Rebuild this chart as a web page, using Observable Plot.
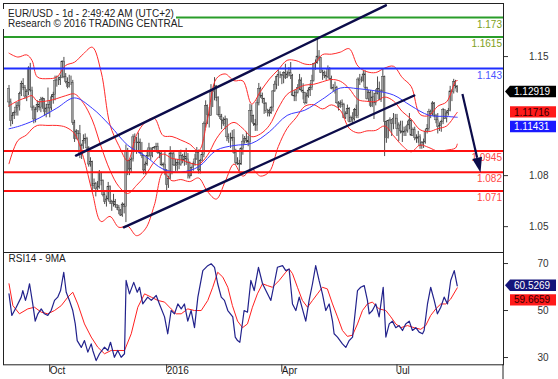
<!DOCTYPE html>
<html>
<head>
<meta charset="utf-8">
<script src="https://cdn.jsdelivr.net/npm/d3@7"></script>
<script src="https://cdn.jsdelivr.net/npm/@observablehq/plot@0.6"></script>
<style>
  html,body{margin:0;padding:0;background:#fff;}
  #wrap{position:relative;width:558px;height:379px;overflow:hidden;background:#fff;font-family:Arial,"Liberation Sans",sans-serif;}
  #wrap svg{position:absolute;left:0;display:block;overflow:visible;background:transparent;}
  #hdr{position:absolute;left:3px;top:8.7px;font-size:10px;line-height:10px;color:#222;}
  #hdr span{display:inline-block;background:#fff;padding:0 2px 0 5px;white-space:nowrap;}
</style>
</head>
<body>
<div id="wrap"><div id="hdr"></div></div>
<script>
// ---------------- DATA ----------------
const titleLines = ["EUR/USD - 1d - 2:49:42 AM (UTC+2)", "Research \u00A9 2016 TRADING CENTRAL"];
const rsiTitle = "RSI14 - 9MA";
const firstBarDate = "2015-09-02", lastBarDate = "2016-08-22";
// daily prices, in 1/10000 above 1.0000 (e.g. 1230 = 1.1230)
const firstOpen = 1310;
const closeP = [
1230,1120,1150,1170,1200,1210,1280,1340,1315,1265,1290,1430,1300,1200,1130,1185,1215,1200,1245,1250,1175,
1195,1215,1195,1260,1275,1355,1360,1360,1375,1470,1380,1350,1320,1345,1345,1110,1015,1060,1045,925,975,1005,
1015,960,865,880,740,750,720,730,815,770,685,645,660,735,645,635,645,625,610,595,565,
630,615,940,885,835,895,1025,990,990,995,930,915,830,865,915,960,915,960,965,970,935,930,860,
865,830,745,780,930,925,860,855,875,865,915,890,910,895,875,795,845,870,895,935,830,
885,920,1105,1210,1155,1150,1290,1290,1325,1255,1155,1145,1125,1105,1130,1025,1015,1015,1020,935,875,
870,865,955,1000,1015,1005,995,1180,1150,1105,1095,1225,1310,1270,1250,1220,1180,1180,1165,1200,1295,1335,1380,
1390,1390,1385,1405,1375,1395,1405,1385,1270,1265,1285,1315,1360,1300,1285,1225,1265,1300,1315,1355,1455,
1460,1500,1490,1405,1405,1385,1380,1425,1370,1310,1315,1315,1225,1205,1225,1215,1140,1160,1190,1115,1140,1130,
1185,1150,1365,1355,1355,1395,1315,1250,1285,1210,1260,1225,1280,1310,1245,1295,1380,1115,1020,1120,1125,1105,
1135,1135,1075,1095,1060,1050,1055,1065,1095,1125,1035,1070,1020,1015,1025,975,990,995,1055,1075,1175,
1160,1225,1150,1125,1085,1090,1115,1185,1135,1165,1180,1295,1290,1350,1325,1292];
const highP = [
1330,1250,1170,1180,1230,1230,1290,1355,1370,1330,1305,1440,1460,1320,1210,1200,1240,1230,1260,1260,1250,
1220,1315,1240,1275,1290,1385,1385,1380,1390,1475,1495,1400,1375,1390,1385,1360,1125,1070,1065,1095,985,1040,
1045,1025,970,905,885,780,760,765,830,820,775,700,680,760,740,655,690,660,630,625,600,
640,635,980,960,890,905,1040,1045,1025,1050,1015,995,920,880,950,990,960,965,970,990,990,945,935,
875,945,835,795,970,935,945,895,895,945,950,925,935,960,930,880,850,880,925,965,950,
895,940,1115,1240,1215,1200,1335,1300,1376,1330,1265,1205,1160,1140,1150,1135,1045,1050,1065,1070,955,
905,890,965,1040,1030,1055,1030,1220,1215,1155,1130,1245,1342,1320,1285,1255,1230,1190,1190,1205,1300,1355,1385,
1420,1410,1395,1410,1455,1415,1435,1465,1395,1300,1300,1335,1395,1375,1340,1290,1285,1315,1340,1390,1460,
1480,1616,1535,1495,1420,1415,1410,1445,1435,1385,1335,1350,1325,1235,1240,1245,1225,1175,1215,1200,1150,1170,
1195,1215,1375,1395,1380,1415,1416,1320,1300,1300,1295,1285,1305,1380,1350,1305,1428,1385,1120,1125,1140,1130,
1165,1160,1160,1110,1120,1120,1085,1090,1120,1165,1125,1080,1085,1040,1060,1040,1000,1015,1070,1100,1190,
1185,1235,1230,1160,1165,1110,1125,1195,1185,1180,1195,1325,1305,1366,1360,1328];
const lowP = [
1200,1087,1100,1130,1150,1150,1180,1265,1300,1250,1235,1270,1290,1180,1105,1110,1170,1180,1170,1190,1150,
1140,1160,1140,1180,1220,1240,1320,1330,1330,1370,1370,1340,1310,1315,1330,1095,995,1010,1010,900,895,955,
985,945,850,850,705,720,675,710,720,740,675,630,615,650,630,590,615,610,595,570,560,
555,575,524,800,800,815,880,935,925,935,925,900,805,805,855,905,890,905,950,935,925,900,855,
850,800,710,725,775,805,855,825,825,835,855,870,855,860,780,780,795,825,855,890,810,
810,880,905,1080,1100,1080,1150,1200,1240,1235,1150,1130,1070,1090,1070,1000,990,960,1000,925,860,
860,825,860,920,985,990,970,822,1110,1090,1060,1060,1210,1255,1225,1160,1165,1145,1145,1160,1175,1290,1305,
1325,1370,1335,1340,1365,1370,1380,1365,1265,1235,1235,1280,1300,1290,1245,1215,1220,1255,1265,1300,1350,
1420,1455,1470,1400,1360,1370,1360,1370,1360,1305,1290,1280,1220,1180,1195,1200,1135,1130,1160,1110,1110,1100,
1120,1135,1135,1330,1345,1350,1305,1245,1235,1200,1200,1130,1210,1275,1240,1230,1290,912,990,1015,1060,1030,
1070,1100,1030,1000,1045,995,1030,1030,1050,1070,1030,1030,1005,990,990,955,955,960,985,1045,1060,
1135,1150,1140,1105,1045,1060,1055,1100,1130,1110,1150,1175,1235,1280,1310,1285];

// Bollinger(20,2): bar index, upper, middle, lower
const bandBar =   [0,5,10,13,16,22,27,32,37,42,47,52,57,62,67,72,77,82,87,92,97,102,107,112,117,122,127,132,137,142,147,152,157,162,167,172,177,182,187,192,197,202,207,212,217,222,227,232,237,242,247,252,253];
const bandUpper = [1.152,1.1497,1.151,1.1477,1.138,1.137,1.138,1.1448,1.1467,1.1516,1.1555,1.141,1.110,1.0976,1.0887,1.104,1.1115,1.1137,1.1035,1.103,1.1009,1.0985,1.0946,1.1131,1.137,1.1398,1.1358,1.1357,1.1221,1.1296,1.1368,1.1423,1.1478,1.1476,1.1456,1.1457,1.1512,1.1514,1.1526,1.1546,1.1443,1.1411,1.1406,1.1432,1.1443,1.1376,1.1324,1.116,1.1153,1.1208,1.1234,1.1354,1.1359];
const bandMid =   [1.121,1.124,1.126,1.127,1.1237,1.124,1.1253,1.127,1.128,1.1226,1.1127,1.097,1.0831,1.0736,1.0695,1.0743,1.0801,1.0881,1.0927,1.0901,1.0893,1.0875,1.0866,1.0919,1.1016,1.1081,1.1113,1.1077,1.1029,1.1046,1.1096,1.1197,1.1278,1.1308,1.1332,1.1337,1.1352,1.1365,1.1355,1.1312,1.1247,1.1237,1.1236,1.1262,1.1239,1.1176,1.1132,1.107,1.1059,1.1076,1.1092,1.1158,1.1172];
const bandLower = [1.087,1.1006,1.104,1.1075,1.1095,1.1095,1.1095,1.1085,1.1046,1.0908,1.0703,1.053,1.056,1.0496,1.0503,1.0447,1.0487,1.0625,1.0819,1.077,1.0777,1.0765,1.0786,1.0707,1.0662,1.0765,1.0868,1.0797,1.0837,1.0797,1.0824,1.0971,1.1078,1.114,1.1208,1.1217,1.1192,1.1216,1.1184,1.1078,1.1051,1.1063,1.1066,1.1092,1.1035,1.0976,1.094,1.098,1.0965,1.0944,1.095,1.0962,1.0985];
// 50-period moving average
const maBar = [0,7,17,27,37,47,57,67,77,87,97,107,117,127,137,147,157,167,177,187,197,207,217,227,237,247,253];
const maVal = [1.1075,1.1095,1.1138,1.1197,1.1257,1.1196,1.1095,1.0979,1.0914,1.0838,1.0821,1.0852,1.0949,1.0977,1.099,1.1058,1.1154,1.1185,1.125,1.1315,1.1311,1.1298,1.1274,1.121,1.1155,1.1148,1.1143];
// RSI(14)
const rsiBar = [0,1.6,4.1,6.9,7.8,9.3,10.6,11.6,13.4,14.8,16.3,18.2,20,21.9,23.8,25.7,27.5,29.1,30.9,32.3,34.1,36,37.4,38.5,40.8,42.6,44.5,46.4,47.3,49.2,51.1,53.9,55.8,57.3,59.5,61.4,63.3,65.2,66.1,68,70.4,72.4,73.7,75.5,78.3,80.3,83.1,84.9,87.8,89.6,91.5,93.4,95.3,97.2,99,100.9,102.8,104.7,106.6,109.4,112.2,114.1,116,117.8,119.8,121.6,123.5,126.3,127.7,129,130.3,132.7,134.6,136.5,138.4,140.8,143.1,145.9,147.8,149.7,151.5,154.4,156.2,158.1,160,161.9,163.8,165.6,167.5,169.4,171.3,173.1,175,176.9,178.8,180.7,182.6,183.5,185.4,188.2,190.1,192,193.9,196.7,198.5,200.5,202.3,203.3,205.1,207,208.9,211.2,212.7,214.6,216.4,218.3,220.2,222.1,223.9,225.9,227.7,229.6,231.5,233.4,234.3,236.2,238,240,241.8,243.7,245.6,247.5,249.3,251.3,253];
const rsiVal = [57.1,47.9,51.4,55.7,58.5,54.3,57.8,61.4,52.8,45.5,48.6,50.7,48.6,47.9,50,54.3,55.7,58.5,66.3,57.8,54.3,50,44.3,37.2,34.3,37.2,32.3,35.8,33,28.7,31.6,34.4,33,36.5,30.1,33,30.1,31.6,62.8,57.1,62,57.8,59.9,52.8,55.7,54.3,56.4,52.8,47.3,40.1,50,48.6,52.8,50.7,52.8,45.5,50,42.7,55.7,67,69.1,69.9,68.4,61.4,55.7,54.3,50,47.3,38.7,37.2,36.5,50,49.3,62.8,58.5,68.4,61.4,57.1,54.3,61.4,68.4,69.1,67,67.7,52.8,50,55.7,50.7,45.5,54.3,61.4,69.1,62.8,57.1,50,52.8,45.5,40.1,38.7,35.8,34.3,37.2,38.7,58.5,59.9,60.6,54.3,48.6,50,52.8,47.3,59.9,38.7,44.3,45.5,42.7,43.6,41.5,44.3,45.5,41.5,42.7,40.8,40.1,41.5,52.8,59.9,54.3,48.6,51.4,55.7,52.8,62.8,67,60.5269];
// 9-period MA of RSI
const rsiMaBar = [0,2.2,5.9,10.6,14.4,18.2,21.9,25.7,29.5,33.2,36,38.8,42.6,46.4,50.1,53.9,57.7,61.4,65.2,69,72.7,76.5,80.3,84,87.8,91.5,94.4,97.2,100.9,104.7,108.5,112.2,115,117.8,120.7,123.5,126.1,129,131.8,134.6,137.4,140.2,143.1,145.9,148.7,152.5,156.2,158.1,160,162.8,165.6,168.5,171.3,174.1,176.9,179.7,182.6,185.4,188.2,191,193.9,196.7,199.5,202.3,205.1,208.9,212.7,215.5,218.3,221.1,224.9,228.7,232.4,235.2,238,240.9,243.7,246.5,249.3,253];
const rsiMaVal = [61.4,52.1,48.6,50.7,51.4,49.3,48.6,50,52.1,55.7,57.8,52.8,44.3,38.7,34.4,31.6,33,33,33,40.1,51.4,57.1,55.7,54.3,53.6,50.7,48.6,48.6,50.7,50,50,54.3,59.9,66.3,64.2,59.9,52.1,45.5,42.7,44.3,51.4,57.1,61.4,60.6,59.9,62.8,66.3,67.7,65.7,59.9,54.3,51.4,54.3,57.1,59.9,59.2,52.8,47.3,41.5,39,39.5,44.3,50,52.8,53.6,50.7,50,47.3,44.3,42.7,43.6,42.7,42,43.6,47.9,50.7,52.8,52.8,54.9,59.6659];

// key levels
const levelValues = [1.173, 1.1615, 1.143, 1.0945, 1.082, 1.071];
const levelLabels = ["1.173", "1.1615", "1.143", "1.0945", "1.082", "1.071"];
const levelKinds  = ["target", "target", "pivot", "support", "support", "support"];
// trend channel & projection arrow (bar index, price)
const channelUpperBar = [37.8, 212.7], channelUpperPrice = [1.0918, 1.1801];
const channelLowerBar = [64.8, 228.7], channelLowerPrice = [1.0496, 1.1271];
const arrowBar = [256.2, 266.4], arrowPrice = [1.1277, 1.0816];
// last values
const lastPrice = 1.12919, lastBandMid = 1.11716, lastMa = 1.11431;
const lastRsi = 60.5269, lastRsiMa = 59.6659;
// axis ticks
const priceTicks = [1.05, 1.08, 1.15];
const rsiTicks = [30, 50, 70];
const monthTicks = ["2015-10", "2016-01", "2016-04", "2016-07"];
const monthLabels = ["Oct", "2016", "Apr", "Jul"];

// ---------------- STYLE ----------------
const levelStyle = {
  target:  {line: "#2a9d2a", text: "#80a020"},
  pivot:   {line: "#1f2fff", text: "#4a55ff"},
  support: {line: "#ff1010", text: "#ff4848"}
};
const FONT = "Arial, 'Liberation Sans', sans-serif";

// ---------------- BUILD ----------------
function weekdays(a, b) {
  const out = [];
  const end = new Date(b + "T00:00:00Z");
  for (let d = new Date(a + "T00:00:00Z"); d <= end; d = new Date(d.getTime() + 864e5)) {
    const w = d.getUTCDay();
    if (w > 0 && w < 6) out.push(d.toISOString().slice(0, 10));
  }
  return out;
}
const dates = weekdays(firstBarDate, lastBarDate);
if (dates.length !== closeP.length || highP.length !== closeP.length || lowP.length !== closeP.length)
  throw new Error(`length mismatch dates=${dates.length} close=${closeP.length} high=${highP.length} low=${lowP.length}`);
const px = v => 1 + v / 1e4;
const bars = dates.map((date, k) => ({
  k, date,
  open: px(k ? closeP[k - 1] : firstOpen),
  high: px(highP[k]), low: px(lowP[k]), close: px(closeP[k])
}));
const band = bandBar.map((b, j) => ({b, u: bandUpper[j], m: bandMid[j], l: bandLower[j]}));
const ma = maBar.map((b, j) => ({b, v: maVal[j]}));
const rsi = rsiBar.map((b, j) => ({b, v: rsiVal[j]}));
const rsiMa = rsiMaBar.map((b, j) => ({b, v: rsiMaVal[j]}));
const levels = levelValues.map((v, j) => ({v, label: levelLabels[j], line: levelStyle[levelKinds[j]].line, text: levelStyle[levelKinds[j]].text}));
const chUp = channelUpperBar.map((b, j) => ({b, p: channelUpperPrice[j]}));
const chLo = channelLowerBar.map((b, j) => ({b, p: channelLowerPrice[j]}));
const tickIdx = monthTicks.map(m => dates.findIndex(d => d.startsWith(m)));
const tickLabel = new Map(tickIdx.map((t, j) => [t, monthLabels[j]]));

const W = 558, mL = 3, mR = 55;
const xDomain = [-3.1, 279.1];

const chartA = Plot.plot({
  width: W, height: 252, marginTop: 3, marginBottom: 0, marginLeft: mL, marginRight: mR,
  x: {domain: xDomain, axis: null},
  y: {domain: [1.0348, 1.1812], axis: null},
  color: {type: "identity"},
  style: {fontFamily: FONT, fontSize: "10px", color: "#333", background: "transparent"},
  marks: [
    Plot.ruleX(bars, {x: "k", y1: "low", y2: "high", stroke: "#202020", strokeWidth: 0.8}),
    Plot.rect(bars, {x1: d => d.k - 0.45, x2: d => d.k + 0.45, y1: "open", y2: "close", fill: "#a8a8a8", stroke: "#303030", strokeWidth: 0.4}),
    Plot.line(band, {x: "b", y: "u", stroke: "#ff2a2a", strokeWidth: 1, curve: "catmull-rom"}),
    Plot.line(band, {x: "b", y: "m", stroke: "#ff2a2a", strokeWidth: 1, curve: "catmull-rom"}),
    Plot.line(band, {x: "b", y: "l", stroke: "#ff2a2a", strokeWidth: 1, curve: "catmull-rom"}),
    Plot.line(ma, {x: "b", y: "v", stroke: "#3a3aff", strokeWidth: 1, curve: "catmull-rom"}),
    Plot.ruleY(levels, {y: "v", stroke: "line", strokeWidth: 2}),
    Plot.text(levels, {y: "v", text: "label", fill: "text", frameAnchor: "right", textAnchor: "end", dx: -1.5, dy: 7, fontSize: 10}),
    Plot.line(chUp, {x: "b", y: "p", stroke: "#0c0c4a", strokeWidth: 2.4}),
    Plot.line(chLo, {x: "b", y: "p", stroke: "#0c0c4a", strokeWidth: 2.4}),
    Plot.frame({stroke: "#222"}),
    Plot.axisY(priceTicks, {anchor: "right", tickSize: 4, tickPadding: 41, textAnchor: "end", tickFormat: d => d.toFixed(2), fontSize: 10, label: null})
  ]
});

const chartB = Plot.plot({
  width: W, height: 127, marginTop: 0, marginBottom: 14.7, marginLeft: mL, marginRight: mR,
  x: {domain: xDomain, axis: null},
  y: {domain: [26.9, 74.7], axis: null},
  style: {fontFamily: FONT, fontSize: "10px", color: "#333", background: "transparent"},
  marks: [
    Plot.line(rsiMa, {x: "b", y: "v", stroke: "#ff2020", strokeWidth: 1}),
    Plot.line(rsi, {x: "b", y: "v", stroke: "#22228c", strokeWidth: 1.2}),
    Plot.frame({stroke: "#222"}),
    Plot.axisY(rsiTicks, {anchor: "right", tickSize: 4, tickPadding: 41, textAnchor: "end", fontSize: 10, label: null}),
    Plot.axisX(tickIdx, {anchor: "bottom", tickSize: 7.5, tickPadding: -5, textAnchor: "start", dx: 3.5, tickFormat: d => tickLabel.get(d), fontSize: 10, fill: "#1a1a1a", label: null}),
    Plot.text([rsiTitle], {frameAnchor: "top-left", dx: 5, dy: 2, fill: "#222", fontSize: 10})
  ]
});

const wrap = document.getElementById("wrap");
chartA.style.top = "0px";
chartB.style.top = "252px";
wrap.insertBefore(chartB, wrap.firstChild);
wrap.insertBefore(chartA, wrap.firstChild);

// header
const hdr = document.getElementById("hdr");
titleLines.forEach((t, j) => {
  if (j) hdr.appendChild(document.createElement("br"));
  const s = document.createElement("span"); s.textContent = t; hdr.appendChild(s);
});

// arrow with filled head (positions from the plot's scales)
(function () {
  const xs = chartA.scale("x"), ys = chartA.scale("y");
  const x1 = xs.apply(arrowBar[0]), y1 = ys.apply(arrowPrice[0]);
  const x2 = xs.apply(arrowBar[1]), y2 = ys.apply(arrowPrice[1]);
  const L = Math.hypot(x2 - x1, y2 - y1), ux = (x2 - x1) / L, uy = (y2 - y1) / L;
  const hl = 15, hw = 5;
  const bx = x2 - ux * hl, by = y2 - uy * hl;
  const g = d3.select(chartA).append("g");
  g.append("line").attr("x1", x1).attr("y1", y1).attr("x2", bx).attr("y2", by)
    .attr("stroke", "#0c0c4a").attr("stroke-width", 2.2);
  g.append("polygon").attr("points", [[x2, y2], [bx - uy * hw, by + ux * hw], [bx + uy * hw, by - ux * hw]].map(p => p.join(",")).join(" "))
    .attr("fill", "#0c0c4a");
})();

// value tags on the right
function addTags(svg, yScale, tags) {
  const h = 11.4, gap = 3.2, xL = W - mR, tip = xL + 2, boxL = xL + 7, boxR = W - 2;
  let prevBottom = -Infinity;
  const g = d3.select(svg).append("g").attr("font-family", FONT).attr("font-size", 10).attr("text-anchor", "start");
  tags.forEach(t => {
    let cy = yScale.apply(t.v);
    if (cy - h / 2 < prevBottom + gap) cy = prevBottom + gap + h / 2;
    prevBottom = cy + h / 2;
    const top = cy - h / 2, bot = cy + h / 2;
    const pts = t.arrow
      ? [[tip, cy], [boxL, top], [boxR, top], [boxR, bot], [boxL, bot]]
      : [[boxL, top], [boxR, top], [boxR, bot], [boxL, bot]];
    g.append("polygon").attr("points", pts.map(p => p.join(",")).join(" ")).attr("fill", t.bg);
    g.append("text").attr("x", boxL + 4).attr("y", cy).attr("dy", "0.36em").attr("text-anchor", "start").attr("fill", t.fg).text(t.text);
  });
}
addTags(chartA, chartA.scale("y"), [
  {v: lastPrice, text: lastPrice.toFixed(5), bg: "#000", fg: "#fff", arrow: true},
  {v: lastBandMid, text: lastBandMid.toFixed(5), bg: "#ff1a1a", fg: "#300", arrow: false},
  {v: lastMa, text: lastMa.toFixed(5), bg: "#1a1aff", fg: "#fff", arrow: false}
]);
addTags(chartB, chartB.scale("y"), [
  {v: lastRsi, text: lastRsi.toFixed(4), bg: "#14147a", fg: "#fff", arrow: true},
  {v: lastRsiMa, text: lastRsiMa.toFixed(4), bg: "#ff1a1a", fg: "#300", arrow: false}
]);
// right axis line continues down to the bottom edge
d3.select(chartB).append("line").attr("x1", W - mR).attr("x2", W - mR).attr("y1", 112.3).attr("y2", 127).attr("stroke", "#222");
</script>
</body>
</html>
